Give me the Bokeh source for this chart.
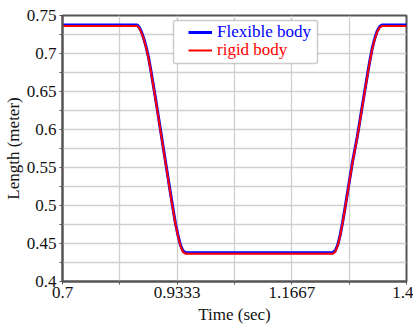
from bokeh.plotting import figure
from bokeh.models import FixedTicker, Legend, LegendItem, BoxAnnotation
from bokeh.embed import file_html
from bokeh.resources import INLINE

# data
time = [0.70, 0.852, 0.856, 0.86, 0.865, 0.87, 0.875, 0.88, 0.89, 0.90, 0.91, 0.92,
        0.925, 0.93, 0.935, 0.94, 0.945, 0.95,
        1.25, 1.255, 1.26, 1.265, 1.27, 1.275, 1.28, 1.29, 1.30, 1.31, 1.32,
        1.325, 1.33, 1.335, 1.34, 1.345, 1.35, 1.40]
rigid = [0.7361, 0.7361, 0.7335, 0.7285, 0.7195, 0.708, 0.694, 0.676, 0.637, 0.596, 0.555, 0.514,
         0.494, 0.475, 0.460, 0.447, 0.439, 0.4365,
         0.4365, 0.439, 0.447, 0.460, 0.477, 0.496, 0.516, 0.556, 0.590, 0.630, 0.669,
         0.688, 0.705, 0.718, 0.728, 0.734, 0.7361, 0.7361]
flexible = [0.7375, 0.7375, 0.7345, 0.7295, 0.7205, 0.709, 0.695, 0.677, 0.638, 0.597, 0.556, 0.515,
            0.495, 0.476, 0.461, 0.448, 0.4405, 0.4378,
            0.4378, 0.4405, 0.448, 0.461, 0.478, 0.497, 0.517, 0.557, 0.591, 0.631, 0.670,
            0.689, 0.706, 0.719, 0.729, 0.735, 0.7375, 0.7375]

x_major = [0.7, 0.9333, 1.1667, 1.4]
x_minor = [0.8167, 1.05, 1.2833]
y_major = [0.4, 0.45, 0.5, 0.55, 0.6, 0.65, 0.7, 0.75]
y_minor = [0.425, 0.475, 0.525, 0.575, 0.625, 0.675, 0.725]
y_labels = ["0.4", "0.45", "0.5", "0.55", "0.6", "0.65", "0.7", "0.75"]
x_labels = ["0.7", "0.9333", "1.1667", "1.4"]

FONT = "Liberation Serif"
AX = "#555555"
GRID = "#cfcfcf"

p = figure(width=413, height=326, x_range=(0.7, 1.4), y_range=(0.4, 0.75),
           output_backend="svg", toolbar_location=None,
           min_border_left=62, min_border_right=7, min_border_top=15, min_border_bottom=45)

p.outline_line_color = AX
p.outline_line_width = 2

for ax, maj, mino, labs in ((p.xaxis[0], x_major, x_minor, x_labels), (p.yaxis[0], y_major, y_minor, y_labels)):
    ax.ticker = FixedTicker(ticks=maj, minor_ticks=mino)
    ax.major_label_overrides = {v: l for v, l in zip(maj, labs)}
    ax.axis_line_color = AX
    ax.axis_line_width = 2
    ax.major_tick_line_color = AX
    ax.minor_tick_line_color = AX
    ax.major_tick_in = 0
    ax.major_tick_out = 3
    ax.minor_tick_in = 0
    ax.minor_tick_out = 3
    ax.major_label_text_font = FONT
    ax.major_label_text_font_size = "17px"
    ax.major_label_text_color = "#111111"
    ax.axis_label_text_font = FONT
    ax.axis_label_text_font_size = "17px"
    ax.axis_label_text_font_style = "normal"
    ax.axis_label_text_color = "#111111"

p.xaxis.axis_label = "Time (sec)"
p.yaxis.axis_label = "Length (meter)"
p.xaxis.major_label_standoff = 2
p.xaxis.axis_label_standoff = 4
p.yaxis.major_label_standoff = 3
p.yaxis.axis_label_standoff = 1

for g in (p.xgrid[0], p.ygrid[0]):
    g.grid_line_color = GRID
    g.grid_line_width = 1.3
    g.minor_grid_line_color = GRID
    g.minor_grid_line_width = 1.3

r_flex = p.line(time, flexible, line_color="#0000ff", line_width=3)
r_rig = p.line(time, rigid, line_color="#ff0000", line_width=2)

box = BoxAnnotation(left=173, right=317, top=20, bottom=63,
                    left_units="canvas", right_units="canvas", top_units="canvas", bottom_units="canvas",
                    fill_color="white", fill_alpha=1, line_color="#555555", line_width=1.5,
                    border_radius=2, level="overlay")
p.add_layout(box)

def mk_legend(item, color, loc):
    lg = Legend(items=[item], location=loc, border_line_color=None,
                background_fill_alpha=0, padding=0, margin=0, spacing=0,
                glyph_width=24, glyph_height=18, label_height=18, label_standoff=5,
                label_text_font=FONT, label_text_font_size="17px", label_text_color=color)
    return lg

lg1 = mk_legend(LegendItem(label="Flexible body", renderers=[r_flex]), "#0000ff", (126, 239))
lg2 = mk_legend(LegendItem(label="rigid body", renderers=[r_rig]), "#ff0000", (126, 221))
p.add_layout(lg1)
p.add_layout(lg2)

open("out.html", "w").write(file_html(p, INLINE))
